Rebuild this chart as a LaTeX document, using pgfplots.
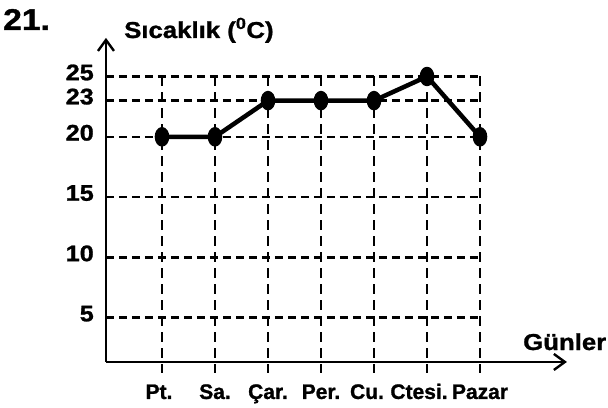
\documentclass[border=0pt]{standalone}
\usepackage{fontspec}
\setmainfont{Liberation Sans}[FakeStretch=1.12, BoldFeatures={FakeBold=1.2}]
\newfontfamily\xlab{Liberation Sans}[FakeStretch=1.0, BoldFeatures={FakeBold=1.2}]
\usepackage{pgfplots}
\pgfplotsset{compat=1.18}
\usetikzlibrary{arrows.meta}
\begin{document}
\begin{tikzpicture}
\begin{axis}[
  x=53bp, y=12.06bp,
  xmin=-0.057, xmax=8.64, ymin=1.33, ymax=28.2,
  enlargelimits=false, clip=false,
  axis x line=bottom, axis y line=left,
  axis line style={line width=2.6bp, -{Straight Barb[length=11bp,width=16bp,line width=2.4bp]}},
  xtick={1,2,3,4,5,6,7},
  xticklabels={\hspace*{-6bp}Pt.,Sa.,Çar.,Per.,\hspace*{-14bp}Cu.,\hspace*{-16bp}Ctesi.,Pazar},
  ytick={5,10,15,20,23,25},
  major tick length=0pt,
  tick style={draw=none},
  /pgf/number format/assume math mode=true,
  ticklabel style={font=\fontsize{22.5bp}{26bp}\selectfont\bfseries, inner sep=0pt},
  xticklabel style={anchor=base, yshift=-37bp, font=\xlab\fontsize{21bp}{24bp}\selectfont\bfseries},
  yticklabel style={anchor=east, xshift=-12bp, yshift=4bp},
]
\pgfplotsinvokeforeach{5,10,15,20,23,25}{
  \draw[line width=2.5bp, dash pattern=on 8bp off 5bp] (axis cs:-0.057,#1) -- (axis cs:7,#1);
}
\pgfplotsinvokeforeach{1,2,3,4,5,6,7}{
  \draw[line width=2.5bp, dash pattern=on 10bp off 6bp] (axis cs:#1,25) -- (axis cs:#1,0.4);
}
\addplot[black, line width=4.5bp, line join=round, mark=*, mark size=7.5bp, mark options={xscale=0.67}]
  coordinates {(1,20) (2,20) (3,23) (4,23) (5,23) (6,25) (7,20)};
\coordinate (O) at (axis cs:0,0);
\end{axis}
\node[anchor=base west, inner sep=0pt, font=\fontsize{30bp}{32bp}\selectfont\bfseries] at ([shift={(-106bp,348bp)}]O) {21.};
\node[anchor=base west, inner sep=0pt, font=\fontsize{23bp}{26bp}\selectfont\bfseries] at ([shift={(15bp,340bp)}]O) {Sıcaklık (\textsuperscript{0}C)};
\node[anchor=base west, inner sep=0pt, font=\fontsize{23bp}{26bp}\selectfont\bfseries] at ([shift={(414bp,28bp)}]O) {Günler};
\useasboundingbox ([shift={(-109bp,-30bp)}]O) rectangle ++(608bp,408bp);
\end{tikzpicture}
\end{document}
